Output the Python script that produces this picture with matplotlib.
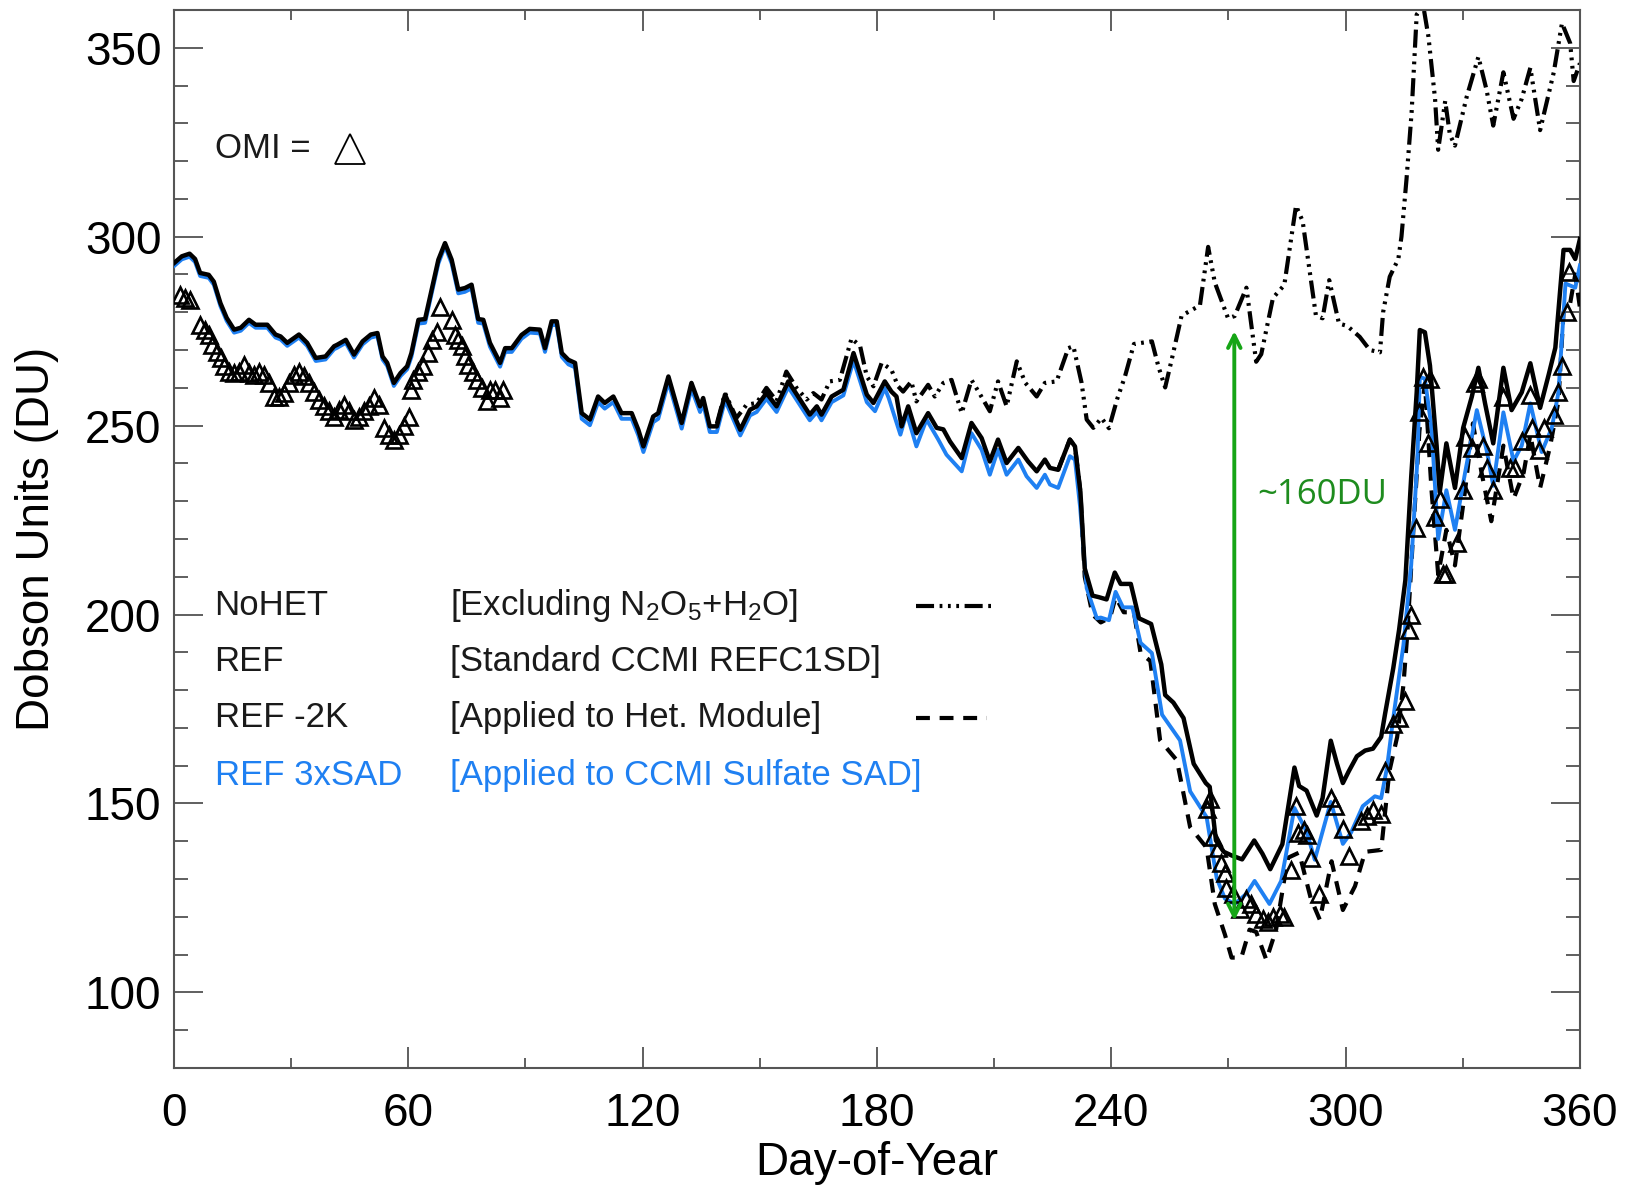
import matplotlib
matplotlib.use("Agg")
import matplotlib.pyplot as plt
from matplotlib.ticker import MultipleLocator

plt.rcParams['font.family'] = ['Liberation Sans', 'DejaVu Sans']
plt.rcParams['mathtext.fontset'] = 'custom'
plt.rcParams['mathtext.rm'] = 'Liberation Sans'
plt.rcParams['mathtext.it'] = 'Liberation Sans:italic'
plt.rcParams['lines.scale_dashes'] = False

# ---------------- data ----------------
ref_day = [0, 2, 4, 5.4, 6.7, 8.9, 10.2, 11.9, 13.5, 15.4, 17.1, 19.2, 20.9, 23.9, 26, 27.3, 29, 32, 34.1, 36.3,
           38.8, 41, 41.8, 44, 46.1, 48.3, 50.4, 52.1, 53.4, 54.6, 56.3, 58, 59.7, 60.8, 62.6, 64.3, 66, 67.7, 69.4,
           71.1, 72.8, 74.5, 76.2, 77.9, 79.2, 80.9, 83.5, 84.8, 86.5, 89, 91.1, 93.7, 95, 96.7, 98, 99.3, 101,
           102.7, 104.4, 106.5, 108.6, 110.3, 112.5, 114.6, 117.2, 118.9, 120.2, 122.7, 124, 126.6, 130, 132.5,
           134.7, 135.5, 137.2, 139, 141.1, 145, 147.5, 149.2, 151.7, 154.3, 157.3, 159.8, 162.8, 164.6, 165.8,
           168.4, 171.4, 174, 177.4, 179.1, 182, 183.7, 185, 186.3, 188, 190.1, 193.1, 195.3, 197, 198.7, 201.7,
           204.2, 206.8, 208.9, 211, 213.2, 216.2, 218.7, 220.9, 223, 224.3, 226.4, 229.4, 230.7, 232.1, 233.2,
           235.2, 236.8, 238.8, 240.9, 242.4, 245, 247.1, 250.2, 252.8, 253.8, 255.9, 258.5, 261.1, 264.2, 265.2,
           266.8, 268.8, 270.9, 273.5, 276.6, 278.7, 280.7, 283.8, 286.9, 288.1, 290, 292.6, 294.1, 296.2, 297.8,
           299.3, 300.8, 302.9, 305, 307, 309.1, 310.1, 312.2, 313.7, 315.3, 316.8, 318.2, 319, 320.3, 321.6,
           323.3, 324.1, 325.8, 328, 330.1, 332.3, 334, 335.7, 337.8, 340.4, 342.5, 345.1, 347.3, 349.8, 352,
           353.7, 355.8, 357.5, 358.8, 360]
ref_du = [293, 294.8, 295.5, 294.1, 290.4, 289.9, 288.1, 282.4, 278.5, 275.4, 275.9, 278, 276.7, 276.7, 274.1,
          273.6, 271.9, 274.1, 271.9, 267.9, 268.3, 271, 271.4, 272.7, 268.8, 272.3, 274.1, 274.5, 268.3, 266.6,
          261.3, 263.9, 265.7, 269.2, 278, 278.2, 286, 293.9, 298.3, 293.9, 286, 286.4, 287.3, 278.2, 278, 271.9,
          266.6, 270.5, 270.5, 274, 275.6, 275.4, 270.5, 277.6, 277.6, 269.2, 267.4, 266.6, 253.3, 251.6, 257.7,
          256, 257.7, 253.3, 253.3, 248.9, 244.5, 252.4, 253.3, 263, 250.7, 261.3, 255.1, 257.3, 249.8, 249.8,
          258.2, 248.9, 254.2, 255.1, 258.6, 255.1, 261.7, 257.7, 252.9, 255.1, 252.9, 257.7, 259.5, 269.2, 258.2,
          256, 261.7, 259, 257.7, 249.8, 255.1, 248, 253.3, 249.4, 249, 245.8, 241.4, 250.7, 246.7, 240.5, 246.3,
          240.1, 244.1, 240.5, 237.9, 241, 238.8, 238.3, 246.3, 244.5, 232.4, 212.2, 205, 204.6, 204, 211.1,
          208.1, 208.1, 199, 197.5, 186.8, 178.7, 176.7, 172.6, 160.5, 155.4, 154.4, 140.2, 137.2, 136.2, 135.2,
          140.2, 136.7, 132.6, 139.2, 159.5, 154.6, 153.4, 146.8, 151.4, 166.6, 160.5, 155.4, 158.5, 162.5, 164,
          164.5, 167.6, 173.7, 185.8, 196, 209.1, 236.5, 258.8, 275.3, 274.7, 265.9, 244.7, 232.4, 245.3, 233.5,
          249.4, 257.6, 265.3, 255.9, 245.3, 265.3, 254.1, 258.8, 266.5, 254.7, 263.5, 270.6, 296.5, 296.5,
          294.1, 299.4]

sad_day = [0, 2, 4, 5.4, 6.7, 8.9, 10.2, 11.9, 13.5, 15.4, 17.1, 19.2, 20.9, 23.9, 26, 27.3, 29, 32, 34.1, 36.3,
           38.8, 41, 41.8, 44, 46.1, 48.3, 50.4, 52.1, 53.4, 54.6, 56.3, 58, 59.7, 60.8, 62.6, 64.3, 66, 67.7, 69.4,
           71.1, 72.8, 74.5, 76.2, 77.9, 79.2, 80.9, 83.5, 84.8, 86.5, 89, 91.1, 93.7, 95, 96.7, 98, 99.3, 101,
           102.7, 104.4, 106.5, 108.6, 110.3, 112.5, 114.6, 117.2, 118.9, 120.2, 122.7, 124, 126.6, 130, 132.5,
           134.7, 135.5, 137.2, 139, 141.1, 145, 147.5, 149.2, 151.7, 154.3, 157.3, 159.8, 162.8, 164.6, 165.8,
           168.4, 171.4, 174, 177.4, 179.5, 182, 183, 186, 187.6, 190.1, 192.7, 195.7, 197.8, 201.7, 204.2, 206.8,
           208.9, 211, 213.2, 216.2, 218.3, 220.9, 223, 224.3, 226.4, 229.4, 230.7, 232, 233.7, 236.3, 237.3,
           239.4, 241.1, 243, 245.4, 247.5, 250.4, 253, 257.6, 260.2, 264.4, 267, 269.1, 271.6, 274.6, 276.7,
           278.8, 280.5, 283.5, 286.9, 290, 292.1, 296.2, 299.3, 301.4, 304.4, 307.5, 309.1, 310.6, 312.2, 314.8,
           316.8, 318.4, 319, 320.3, 322, 323.7, 325.8, 328, 330.6, 333.6, 336.1, 337.8, 340.4, 343, 345.1, 347.3,
           350.2, 352.8, 354.5, 356.3, 358.8, 360]
sad_du = [292.2, 294, 294.7, 293.3, 289.6, 289.1, 287.3, 281.6, 277.7, 274.6, 275.1, 277.2, 275.9, 275.9, 273.3,
          272.8, 271.1, 273.3, 271.1, 267.1, 267.5, 270.2, 270.6, 271.9, 268, 271.5, 273.3, 273.7, 267.5, 265.8,
          260.5, 263.1, 264.9, 268.2, 277, 277.2, 285, 292.9, 297.5, 292.9, 285, 285.4, 286.3, 277.2, 277, 270.9,
          265.6, 269.5, 269.5, 273, 274.6, 274.4, 269.5, 276.6, 276.6, 268.2, 266.2, 265.4, 251.8, 250.1, 256.2,
          254.5, 256.2, 251.8, 251.8, 247.4, 243, 250.9, 251.8, 261.5, 249.2, 259.8, 253.6, 255.8, 248.3, 248.3,
          256.7, 247.4, 252.7, 253.6, 257.1, 253.6, 260.2, 256.2, 251.4, 253.6, 251.4, 256.2, 258, 267.2, 256.2,
          253.8, 259.9, 257.3, 247.6, 253.3, 244.5, 251.6, 246.3, 242.3, 237.9, 248, 243.6, 237, 243.6, 237, 241,
          236.6, 233.5, 237, 234.4, 233.5, 241.9, 241, 228.6, 207, 199, 199.2, 198.5, 206, 201.9, 201.9, 192.5,
          189.8, 173.5, 166.7, 153.2, 146.4, 130.2, 124.8, 123.4, 126.1, 129.5, 126.1, 123.4, 129.5, 148.8, 142.6,
          135.1, 150.4, 139.3, 142.3, 149.3, 151.9, 151.4, 159.5, 172.6, 191.9, 213.2, 241.5, 262.9, 262.4, 249.4,
          220, 232.9, 222.4, 237.6, 254.1, 243.5, 234.1, 253.5, 240.6, 244.7, 255.9, 243, 249.4, 258.8, 287.6,
          286.5, 292.4]

m2k_day = [226.4, 229.4, 230.7, 232.1, 233.2, 235.2, 237.3, 239.7, 241.1, 243.2, 245.8, 247.5, 250, 252.5, 256.8,
           260.2, 264.4, 266.5, 269.1, 270.8, 273.3, 275.4, 277.1, 279.7, 282.2, 285.2, 288.1, 291.1, 293.4,
           296.4, 299.3, 302.4, 305, 309.1, 311.2, 313.2, 314.8, 315.8, 317.4, 318.9, 320.3, 322, 323.7, 325.8,
           328, 330.6, 332.6, 334.8, 337.3, 340.4, 343, 345.6, 347.3, 349.8, 352.4, 354.5, 355.8, 357.5, 358.8, 360]
m2k_du = [238.3, 246.3, 244.5, 232.4, 210, 200, 197.9, 199.2, 204.6, 200.6, 200.6, 189.8, 187.7, 166.7, 161.4,
          143.7, 138.3, 123.4, 115.3, 109.2, 109.2, 116.6, 116, 108.6, 116.6, 135.6, 137, 124.8, 119.2, 134.7,
          121.8, 128.1, 137.2, 137.7, 158.5, 167.6, 181.3, 194.9, 223.3, 248.6, 261.2, 232.9, 210.6, 222.4, 213,
          232.9, 250.6, 237.6, 224.7, 244.7, 230.6, 237.6, 247.6, 233.5, 244.7, 256.5, 280, 282.4, 290, 281.2]

nohet_day = [139, 141.1, 144, 146.6, 149.2, 151.7, 154.3, 156.8, 159.4, 162, 163.7, 165.8, 167.9, 170.5, 173.5,
             175.7, 177.4, 179.1, 181.2, 183.7, 185.4, 186.7, 188.8, 190.1, 193.1, 194.8, 197, 199.1, 201.7,
             204.2, 206, 208.9, 211, 213.2, 215.8, 218, 220.9, 223, 226, 229, 230.3, 232.4, 233.7, 235.4, 237.5,
             239.4, 241.5, 243.5, 245.8, 250.4, 252.1, 253.8, 255.5, 258, 262.7, 264.8, 266.5, 269.9, 271.6,
             274.6, 277.1, 278.4, 281.4, 284.3, 287.3, 289, 292.4, 294.1, 295.8, 298.3, 300.4, 303.6, 306.2, 308.8,
             309.6, 311.3, 313.5, 314.3, 315.6, 316.9, 318.2, 319.9, 321.2, 322.9, 323.7, 325.5, 326.7, 328, 331,
             334, 336.1, 337.8, 340.4, 343, 345.1, 347.3, 349.8, 353.3, 355.4, 357.5, 358.4, 360]
nohet_du = [250.5, 258.6, 252, 255.5, 256, 260, 256.5, 264.3, 260, 256.9, 258.6, 256.9, 261.7, 262.1, 273.1, 271,
            263, 260.4, 266.6, 264.8, 260.4, 259, 261.7, 256.4, 260.8, 257.7, 261.3, 262.1, 253.3, 262.1, 259,
            253.8, 261.7, 255.1, 267, 261.3, 257.7, 261.3, 261.7, 270.5, 271, 261.3, 251.6, 249.4, 252, 249.3, 257,
            263, 271.6, 272.3, 265.5, 260.1, 267.6, 279.1, 281.8, 297.3, 287.9, 278.4, 279, 286.5, 266.9, 268.9,
            283.8, 287.2, 308.2, 304.1, 279.1, 278.4, 288.5, 277, 276.4, 273.5, 270, 269.4, 280, 289.4, 294.1, 300,
            315.3, 332.9, 358.8, 361, 353, 336.5, 323, 335.9, 327, 324.1, 337, 347.6, 338.8, 329.4, 343.5, 331.2,
            336.5, 344.7, 328.2, 343.5, 356.5, 351.2, 341.2, 345.9]

omi_day = [1.5, 2.8, 4.1, 6.7, 8, 8.9, 9.8, 11.1, 12, 12.8, 14.1, 15.4, 16.6, 17.9, 19.2, 20.5, 21.8, 23, 24.3, 25.6,
           26.9, 28.2, 29.4, 30.7, 32, 33.3, 34.6, 35.8, 37.1, 38.4, 39.7, 41, 42.3, 43.5, 44.8, 46.1, 47.4, 48.7,
           50, 51.2, 52.5, 53.8, 55.1, 56.4, 57.7, 59, 60.2, 60.8, 61.2, 62.6, 63.8, 65.1, 66, 67.3, 68.1, 71.1,
           72, 72.8, 73.7, 74.5, 75.4, 76.6, 77.5, 78.8, 80.1, 80.9, 82.2, 83.5, 84.3,
           264.4, 265.3, 266.1, 267.4, 268.2, 269.1, 269.5, 271.2, 272.9, 274.6, 275.9, 277.1, 278.8, 280.1, 281.4,
           283.1, 284.3, 286, 287.4, 287.9, 289.4, 290, 291.1, 293.1, 296.2, 297.2, 299.3, 300.8, 303.9, 305.5,
           307, 309.1, 310.1, 312.2, 313.7, 315.3, 316.3, 316.8, 317.9, 318.9, 319.9, 321.2, 321.6, 322.9, 324.1,
           325, 325.8, 328.4, 330.1, 330.6, 332.3, 333.1, 334, 335.3, 336.1, 337.8, 340.4, 342.1, 343.4, 345.1,
           347.3, 347.7, 349.4, 350.7, 353.3, 354.5, 355.4, 356.7, 357.1]
omi_du = [284.6, 283.8, 283.3, 276.7, 275.4, 274.1, 271.4, 269.6, 267.9, 265.7, 264.3, 264, 264.3, 266.1, 264,
          263.5, 264.3, 263.5, 261.3, 257.7, 257.7, 258.6, 261.3, 263.5, 264.3, 263, 261.3, 259, 256.9, 255.1,
          253.8, 252.4, 254.2, 255.5, 253.8, 251.6, 252.4, 253.8, 255.1, 257.3, 255.5, 249.4, 247.6, 246.3, 247.6,
          249.8, 252.4, 259.5, 262.2, 264.3, 265.7, 269.2, 272.7, 274.9, 281.5, 278, 274.1, 272.7, 271, 268.3,
          266.1, 264.3, 262.2, 259.9, 256.4, 259.5, 259.5, 257.3, 259.5,
          148.5, 151.2, 141, 138.3, 134.3, 131.6, 127.5, 126.1, 122.1, 124.8, 123.4, 120.7, 119.4, 118.7, 120,
          120.7, 120, 132.3, 149.3, 142.2, 143.1, 141.7, 135.6, 126, 151.4, 149.3, 143.3, 136.2, 145.3, 146.8,
          148.3, 147.3, 158.5, 171.1, 172.6, 177.2, 196, 200, 222.8, 253.7, 262.9, 245.3, 262.4, 225.9, 230.6,
          210.6, 210.6, 218.8, 232.9, 247.1, 244.1, 261.2, 262.4, 244.7, 238.8, 232.9, 257.6, 238.8, 238.8,
          245.9, 258.2, 249.4, 243.5, 249.4, 252.9, 258.8, 265.9, 280, 290.6]

arrow_day = 271.5
arrow_top = 275
arrow_bottom = 119

legend_names = ["NoHET", "REF", "REF -2K", "REF 3xSAD"]
legend_desc = [r"[Excluding N$_2$O$_5$+H$_2$O]", "[Standard CCMI REFC1SD]",
               "[Applied to Het. Module]", "[Applied to CCMI Sulfate SAD]"]

x_ticks = [0, 60, 120, 180, 240, 300, 360]
y_ticks = [100, 150, 200, 250, 300, 350]

BLUE = '#1f80f2'
GREEN = '#16a516'
TXT = '#1a1a1a'

# ---------------- figure ----------------
fig = plt.figure(figsize=(16.32, 11.87), dpi=100)
ax = fig.add_axes([0.1066, 0.1003, 0.8615, 0.8913])

nohet_dash = (13, 4, 2, 4, 2, 4, 2, 4)
m2k_dash = (10, 7)

ax.plot(nohet_day, nohet_du, color='k', lw=3.0, dashes=nohet_dash, zorder=2)
ax.plot(m2k_day, m2k_du, color='k', lw=3.0, dashes=m2k_dash, zorder=3)
ax.plot(sad_day, sad_du, color=BLUE, lw=2.8, zorder=4)
ax.plot(ref_day, ref_du, color='k', lw=3.2, zorder=5)
ax.plot(omi_day, omi_du, linestyle='none', marker='^', ms=11, mfc='none', mec='k', mew=1.9, zorder=6)

# ~160 DU arrow
ax.annotate('', xy=(arrow_day, arrow_bottom), xytext=(arrow_day, arrow_top),
            arrowprops=dict(arrowstyle='<->,head_length=0.9,head_width=0.45', color=GREEN, lw=2.8,
                            shrinkA=0, shrinkB=0), zorder=7)
ax.text(0.7705, 0.542, '~160DU', transform=ax.transAxes, color='#1e8c1e', fontsize=25,
        family=['Open Sans', 'DejaVu Sans'], va='center', ha='left')

# OMI label
ax.text(0.0289, 0.869, 'OMI =', transform=ax.transAxes, fontsize=25, color=TXT, va='center', ha='left')
ax.plot([0.1255], [0.869], transform=ax.transAxes, marker='^', ms=22, mfc='none', mec='k', mew=1.3,
        linestyle='none', clip_on=False)

# Legend block
rows_y = [0.437, 0.384, 0.331, 0.2765]
colors = [TXT, TXT, TXT, BLUE]
for name, desc, yy, c in zip(legend_names, legend_desc, rows_y, colors):
    ax.text(0.0289, yy, name, transform=ax.transAxes, fontsize=25, color=c, va='center', ha='left')
    ax.text(0.196, yy, desc, transform=ax.transAxes, fontsize=25, color=c, va='center', ha='left')
ax.plot([0.528, 0.583], [rows_y[0], rows_y[0]], transform=ax.transAxes, color='k', lw=3.0, dashes=nohet_dash)
ax.plot([0.528, 0.578], [rows_y[2], rows_y[2]], transform=ax.transAxes, color='k', lw=3.0, dashes=m2k_dash)

# axes formatting
ax.set_xlim(0, 360)
ax.set_ylim(80, 360)
ax.set_xticks(x_ticks)
ax.set_yticks(y_ticks)
ax.xaxis.set_minor_locator(MultipleLocator(30))
ax.yaxis.set_minor_locator(MultipleLocator(10))
ax.tick_params(axis='both', which='both', direction='in', top=True, right=True, colors='#444444',
               labelcolor='k', labelsize=33)
ax.tick_params(axis='x', which='major', length=15, width=1.2, pad=17)
ax.tick_params(axis='x', which='minor', length=7.5, width=1.2)
ax.tick_params(axis='y', which='major', length=21, width=1.2, pad=9)
ax.tick_params(axis='y', which='minor', length=10, width=1.2)
for s in ax.spines.values():
    s.set_color('#555555')
    s.set_linewidth(1.5)

ax.set_xlabel('Day-of-Year', fontsize=33, labelpad=4)
ax.set_ylabel('Dobson Units (DU)', fontsize=33, labelpad=19)

fig.savefig('out.png', dpi=100)
